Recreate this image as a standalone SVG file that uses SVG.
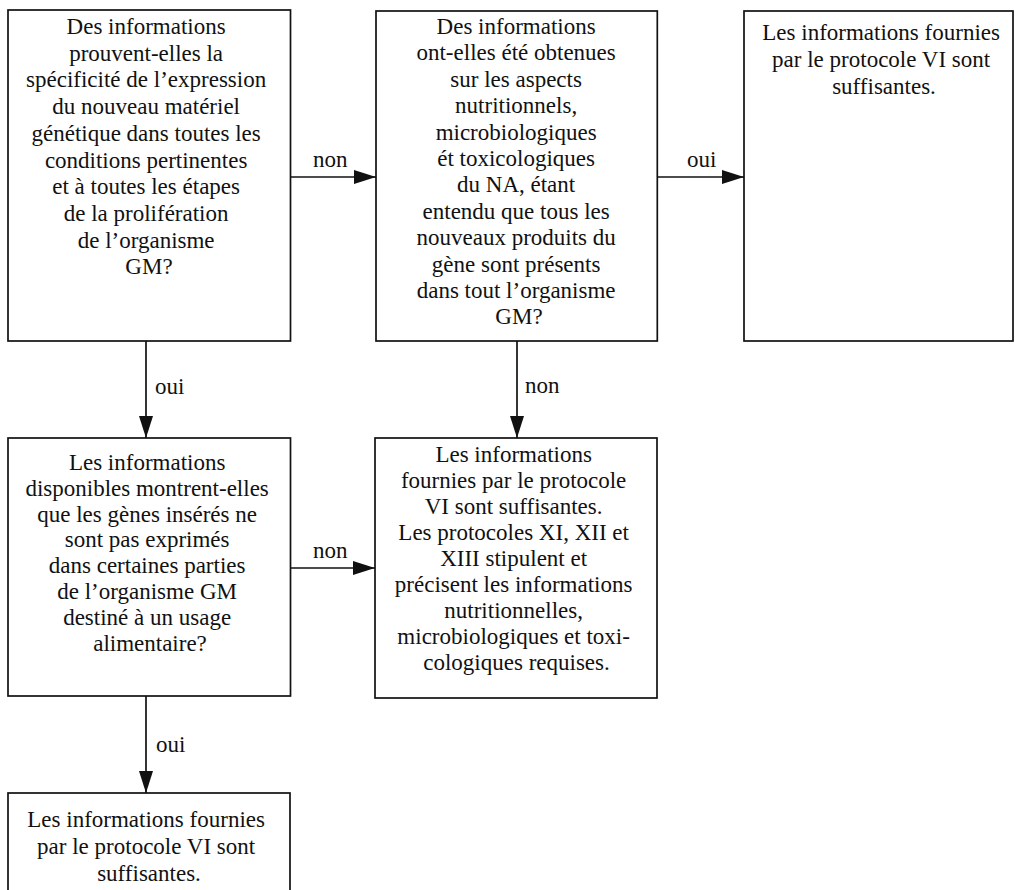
<svg xmlns="http://www.w3.org/2000/svg" width="1015" height="890" viewBox="0 0 1015 890">
<style>
.box{fill:#fff;stroke:#111;stroke-width:1.7}
.t{font-family:"Liberation Serif","Times New Roman",serif;font-size:23px;fill:#111;text-anchor:middle}
.lbl{font-family:"Liberation Serif","Times New Roman",serif;font-size:23px;fill:#111}
.c{stroke:#111;stroke-width:1.7;fill:none}
</style>
<defs>
<marker id="ah" markerWidth="22" markerHeight="14" refX="22" refY="7" orient="auto" markerUnits="userSpaceOnUse">
<path d="M0,0 L22,7 L0,14 Z" fill="#111"/>
</marker>
</defs>
<rect width="1015" height="890" fill="#fff"/>

<g id="n1">
<rect class="box" x="8" y="10" width="282.5" height="331"/>
<text class="t">
<tspan x="149" y="34">Des informations</tspan>
<tspan x="149" y="60.7">prouvent-elles la</tspan>
<tspan x="149" y="87.4">spécificité de l’expression</tspan>
<tspan x="149" y="114.1">du nouveau matériel</tspan>
<tspan x="149" y="140.8">génétique dans toutes les</tspan>
<tspan x="149" y="167.5">conditions pertinentes</tspan>
<tspan x="149" y="194.2">et à toutes les étapes</tspan>
<tspan x="149" y="220.9">de la prolifération</tspan>
<tspan x="149" y="247.6">de l’organisme</tspan>
<tspan x="149" y="274.3">GM?</tspan>
</text>
</g>

<g id="n2">
<rect class="box" x="376" y="11" width="281.3" height="330"/>
<text class="t">
<tspan x="519" y="34">Des informations</tspan>
<tspan x="519" y="60.4">ont-elles été obtenues</tspan>
<tspan x="519" y="86.8">sur les aspects</tspan>
<tspan x="519" y="113.2">nutritionnels,</tspan>
<tspan x="519" y="139.6">microbiologiques</tspan>
<tspan x="519" y="166">ét toxicologiques</tspan>
<tspan x="519" y="192.4">du NA, étant</tspan>
<tspan x="519" y="218.8">entendu que tous les</tspan>
<tspan x="519" y="245.2">nouveaux produits du</tspan>
<tspan x="519" y="271.6">gène sont présents</tspan>
<tspan x="519" y="298">dans tout l’organisme</tspan>
<tspan x="519" y="324.4">GM?</tspan>
</text>
</g>

<g id="n3">
<rect class="box" x="744" y="11" width="269" height="330"/>
<text class="t">
<tspan x="884" y="40">Les informations fournies</tspan>
<tspan x="884" y="67">par le protocole VI sont</tspan>
<tspan x="884" y="94">suffisantes.</tspan>
</text>
</g>

<g id="n4">
<rect class="box" x="8" y="438" width="282.5" height="258"/>
<text class="t">
<tspan x="150" y="470">Les informations</tspan>
<tspan x="150" y="495.8">disponibles montrent-elles</tspan>
<tspan x="150" y="521.6">que les gènes insérés ne</tspan>
<tspan x="150" y="547.4">sont pas exprimés</tspan>
<tspan x="150" y="573.2">dans certaines parties</tspan>
<tspan x="150" y="599">de l’organisme GM</tspan>
<tspan x="150" y="624.8">destiné à un usage</tspan>
<tspan x="150" y="650.6">alimentaire?</tspan>
</text>
</g>

<g id="n5">
<rect class="box" x="375" y="438" width="282" height="260"/>
<text class="t">
<tspan x="516.5" y="462">Les informations</tspan>
<tspan x="516.5" y="488">fournies par le protocole</tspan>
<tspan x="516.5" y="514">VI sont suffisantes.</tspan>
<tspan x="516.5" y="540">Les protocoles XI, XII et</tspan>
<tspan x="516.5" y="566">XIII stipulent et</tspan>
<tspan x="516.5" y="592">précisent les informations</tspan>
<tspan x="516.5" y="618">nutritionnelles,</tspan>
<tspan x="516.5" y="644">microbiologiques et toxi-</tspan>
<tspan x="516.5" y="670">cologiques requises.</tspan>
</text>
</g>

<g id="n6">
<rect class="box" x="8" y="793" width="282" height="110"/>
<text class="t">
<tspan x="149" y="827">Les informations fournies</tspan>
<tspan x="149" y="854">par le protocole VI sont</tspan>
<tspan x="149" y="881">suffisantes.</tspan>
</text>
</g>

<g id="connectors">
<line class="c" x1="291" y1="177" x2="376" y2="177" marker-end="url(#ah)"/>
<text class="lbl" x="313" y="167">non</text>
<line class="c" x1="657" y1="177" x2="744" y2="177" marker-end="url(#ah)"/>
<text class="lbl" x="687" y="167">oui</text>
<line class="c" x1="146" y1="341" x2="146" y2="438" marker-end="url(#ah)"/>
<text class="lbl" x="155" y="394">oui</text>
<line class="c" x1="517" y1="341" x2="517" y2="438" marker-end="url(#ah)"/>
<text class="lbl" x="525" y="393">non</text>
<line class="c" x1="291" y1="568" x2="375" y2="568" marker-end="url(#ah)"/>
<text class="lbl" x="313" y="558">non</text>
<line class="c" x1="146" y1="696" x2="146" y2="793" marker-end="url(#ah)"/>
<text class="lbl" x="156" y="752">oui</text>
</g>
</svg>
